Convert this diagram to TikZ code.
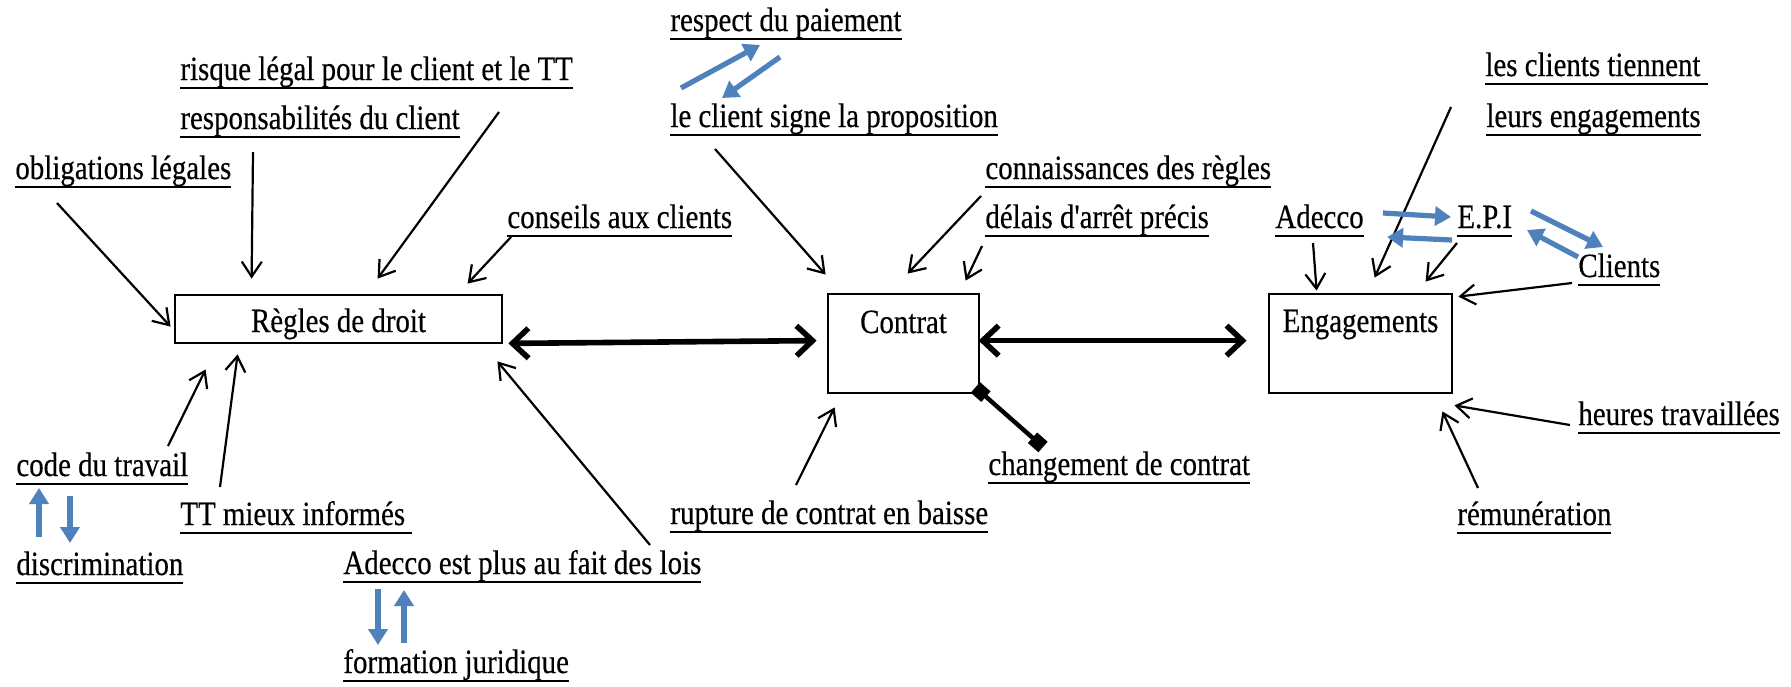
\documentclass[tikz,border=0pt]{standalone}
\usepackage{fontspec}
\setmainfont{Liberation Serif}[FakeStretch=0.85,FakeBold=0.4]
\newfontfamily\rawf{Liberation Serif}[FakeStretch=0.85,FakeBold=0.4]
\usetikzlibrary{arrows.meta,calc}
\definecolor{ablue}{HTML}{4F81BD}
\newsavebox\ulsave
\newcommand\ulx[1]{\sbox\ulsave{#1}\rlap{\rule[-4.5pt]{\wd\ulsave}{0.9pt}}\usebox\ulsave}
\begin{document}
\begin{tikzpicture}[x=0.5pt,y=-0.5pt,
  every node/.style={font=\fontsize{17}{20}\selectfont},
  lbl/.style={anchor=base west,inner sep=0pt},
  boxnode/.style={draw,line width=1.4pt,anchor=base,inner sep=0pt},
  arr/.style={line width=1.1pt,-{Straight Barb[length=7.5pt,width=10pt]}},
  bluearr/.style={draw=ablue,line width=2.6pt,-{Triangle[length=8pt,width=9.5pt]},ablue},
  thickarr/.style={line width=2.8pt,{Straight Barb[length=8pt,width=15pt]}-{Straight Barb[length=8pt,width=15pt]}},
  sqline/.style={line width=2.2pt,{Square[length=7pt,width=7pt]}-{Square[length=7pt,width=7pt]}}]
\useasboundingbox (0,0) rectangle (1791,686);

% boxes
\node[boxnode,minimum width=163.5pt,text height=18.5pt,text depth=5.5pt] (regles) at (338.5,332) {Règles de droit};
\node[boxnode,minimum width=75.5pt,text height=19.5pt,text depth=30pt] (contrat) at (903.5,333) {Contrat};
\node[boxnode,minimum width=91.5pt,text height=19pt,text depth=30.5pt] (eng) at (1360.5,332) {Engagements};

% labels
\node[lbl] (obl) at (15,179) {\ulx{obligations légales}};
\node[lbl] (risque) at (180,80) {\ulx{risque légal pour le client et le TT}};
\node[lbl] (resp) at (180,129) {\ulx{responsabilités du client}};
\node[lbl] (conseils) at (507,228) {\ulx{conseils aux clients}};
\node[lbl] (respect) at (670,31) {\ulx{respect du paiement}};
\node[lbl] (signe) at (670,127) {\ulx{le client signe la proposition}};
\node[lbl] (conn) at (985,179) {\ulx{connaissances des règles}};
\node[lbl] (delais) at (985,228) {\ulx{délais d{\rawf '}arrêt précis}};
\node[lbl] (tiennent) at (1485,76) {\ulx{les clients tiennent }};
\node[lbl] (leurs) at (1486,127) {\ulx{leurs engagements}};
\node[lbl] (adecco) at (1275,228) {\ulx{Adecco}};
\node[lbl] (epi) at (1457,228) {\ulx{E.P.I}};
\node[lbl] (clients) at (1578,277) {\ulx{Clients}};
\node[lbl] (heures) at (1578,425) {\ulx{heures travaillées}};
\node[lbl] (remu) at (1457,525) {\ulx{rémunération}};
\node[lbl] (chgt) at (988,475) {\ulx{changement de contrat}};
\node[lbl] (rupture) at (670,524) {\ulx{rupture de contrat en baisse}};
\node[lbl] (code) at (16,476) {\ulx{code du travail}};
\node[lbl] (discr) at (16,575) {\ulx{discrimination}};
\node[lbl] (ttmieux) at (180,525) {\ulx{TT mieux informés }};
\node[lbl] (adplus) at (343,574) {\ulx{Adecco est plus au fait des lois}};
\node[lbl] (formation) at (343,673) {\ulx{formation juridique}};

% thin black arrows
\draw[arr] ($(obl.base west)+(42,24)$) -- ($(regles.north west)+(-3,33)$);
\draw[arr] ($(resp.base west)+(73,23)$) -- ($(regles.north west)+(78,-15)$);
\draw[arr] ($(risque.base west)+(319,32)$) -- ($(regles.north west)+(204,-15)$);
\draw[arr] ($(conseils.base west)+(4,9)$) -- ($(regles.north west)+(294,-10)$);
\draw[arr] ($(signe.base west)+(45,22)$) -- ($(contrat.north west)+(-1,-18)$);
\draw[arr] ($(conn.base west)+(-4,17)$) -- ($(contrat.north west)+(81,-19)$);
\draw[arr] ($(delais.base west)+(-3,18)$) -- ($(contrat.north west)+(139,-12)$);
\draw[arr] ($(tiennent.base west)+(-34,31)$) -- ($(eng.north west)+(107,-15)$);
\draw[arr] ($(adecco.base west)+(38,15)$) -- ($(eng.north west)+(49,-2)$);
\draw[arr] ($(epi.base west)+(0,15)$) -- ($(eng.north west)+(158,-11)$);
\draw[arr] ($(clients.base west)+(-6,6)$) -- ($(eng.north east)+(5,4)$);
\draw[arr] ($(heures.base west)+(-8,0)$) -- ($(eng.south east)+(1,11)$);
\draw[arr] ($(remu.base west)+(21,-37)$) -- ($(eng.south east)+(-11,17)$);
\draw[arr] ($(rupture.base west)+(126,-39)$) -- ($(contrat.south west)+(8,13)$);
\draw[arr] ($(code.base west)+(152,-30)$) -- ($(regles.south west)+(32,25)$);
\draw[arr] ($(ttmieux.base west)+(40,-38)$) -- ($(regles.south west)+(64,10)$);
\draw[arr] ($(adplus.base west)+(307,-29)$) -- ($(regles.south east)+(-6,17)$);

% blue arrows
\draw[bluearr] ($(signe.base west)+(11,-39)$) -- ($(respect.base west)+(90,14)$);
\draw[bluearr] ($(respect.base west)+(110,26)$) -- ($(signe.base west)+(52,-29)$);
\draw[bluearr] ($(discr.base west)+(23,-38)$) -- ($(code.base west)+(23,12)$);
\draw[bluearr] ($(code.base west)+(54,20)$) -- ($(discr.base west)+(54,-32)$);
\draw[bluearr] ($(adplus.base west)+(35,15)$) -- ($(formation.base west)+(35,-28)$);
\draw[bluearr] ($(formation.base west)+(61,-30)$) -- ($(adplus.base west)+(61,16)$);
\draw[bluearr] ($(adecco.base west)+(108,-15)$) -- ($(epi.base west)+(-6,-11)$);
\draw[bluearr] ($(epi.base west)+(-5,12)$) -- ($(adecco.base west)+(112,9)$);
\draw[bluearr] ($(epi.base west)+(74,-17)$) -- ($(clients.base west)+(25,-30)$);
\draw[bluearr] ($(clients.base west)+(0,-20)$) -- ($(epi.base west)+(70,2)$);

% thick double arrows
\draw[thickarr] ($(regles.south east)+(5,-1)$) -- ($(contrat.north west)+(-10,48)$);
\draw[thickarr] ($(contrat.north west)+(152,48)$) -- ($(eng.north west)+(-21,48)$);

% square-ended line
\draw[sqline] ($(contrat.south east)+(-5,-7)$) -- ($(chgt.base west)+(55,-28)$);
\end{tikzpicture}
\end{document}
